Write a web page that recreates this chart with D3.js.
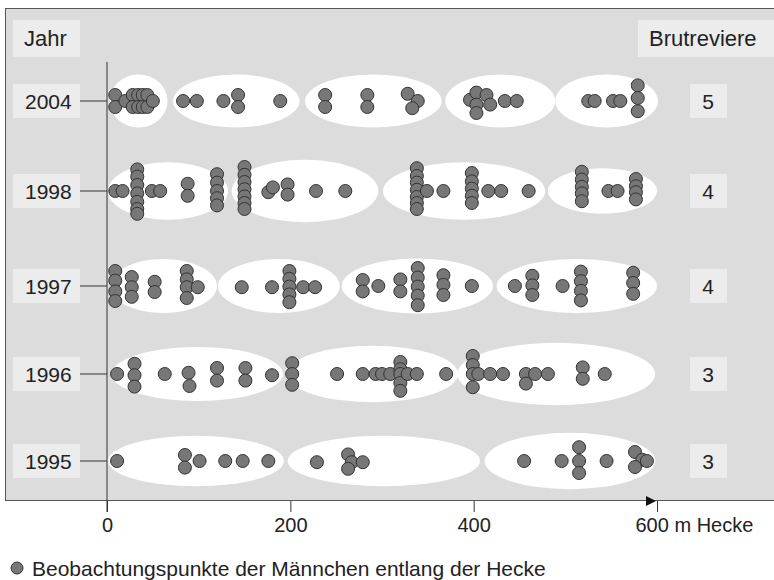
<!DOCTYPE html>
<html>
<head>
<meta charset="utf-8">
<script src="https://cdn.jsdelivr.net/npm/d3@7"></script>
<style>
body { margin: 0; background: #fff; }
text { font-family: "Liberation Sans", Arial, sans-serif; fill: #222; }
</style>
</head>
<body>
<svg id="chart" width="774" height="580"></svg>
<script>
// years (rows) and number of territories per year
var years = ["2004", "1998", "1997", "1996", "1995"];
var territories = [5, 4, 4, 3, 3];
var xTicks = [0, 200, 400, 600];

// observation points: [metres along hedge, stack level]
var dots2004 = [[9,-0.5],[9,0.5],[20,0],[28,-0.5],[28,0.5],[34,-0.5],[34,0.5],[39,-0.5],[39,0.5],[44,-0.5],[44,0.5],[50,0],
	[83,0],[98,0],[127,0],[143,-0.5],[143,0.5],[189,0],[238,-0.5],[238,0.5],[284,-0.5],[284,0.5],
	[328,-0.6],[339,0],[333,0.6],[396,-0.1],[403,-0.7],[414,-0.5],[403,0.3],[418,0.3],[403,1.0],[434,0],[447,0],
	[525,0],[532,0],[552,0],[560,0],[579,-1.3],[579,-0.25],[579,0.85]];
var dots1998 = [[9,0],[17,0],[33,-1.8],[33,-1.2],[33,-0.5],[33,0.2],[33,0.9],[33,1.5],[33,1.9],[49,0],[58,0],
	[88,-0.6],[88,0.4],[120,-1.4],[120,-0.7],[120,0],[120,0.6],[120,1.2],
	[150,-2],[150,-1.35],[150,-0.75],[150,-0.15],[150,0.45],[150,1.0],[150,1.5],
	[176,0.1],[181,-0.3],[197,-0.55],[197,0.3],[228,0],[260,0],
	[338,-1.9],[338,-1.25],[338,-0.7],[338,-0.1],[338,0.5],[338,1.0],[338,1.5],[349,0],[367,0],
	[398,-1.5],[398,-0.8],[398,-0.2],[398,0.4],[398,1.0],[416,0],[430,0],[460,0],
	[518,-1.6],[518,-0.95],[518,-0.35],[518,0.2],[518,0.85],[547,0],[557,0],[577,-1.0],[577,-0.4],[577,0.1],[577,0.7]];
var dots1997 = [[9,-1.25],[9,-0.45],[9,0.45],[9,1.25],[27,-0.75],[27,0.1],[27,0.9],[52,-0.35],[52,0.5],
	[87,-1.25],[87,-0.55],[87,0.1],[87,1.0],[99,0.1],[147,0.1],[180,0.1],
	[199,-1.25],[199,-0.6],[199,0.05],[199,0.7],[199,1.35],[214,0.1],[227,0.1],
	[279,-0.5],[279,0.45],[296,0],[320,-0.55],[320,0.45],[339,-1.5],[339,-0.7],[339,0.05],[339,0.8],[339,1.6],
	[367,-0.9],[367,-0.1],[367,0.75],[398,0],[445,0],[464,-0.85],[464,-0.05],[464,0.75],[497,0],
	[517,-1.2],[517,-0.4],[517,0.4],[517,1.2],[574,-1.1],[574,-0.25],[574,0.65]];
var dots1996 = [[11,0],[30,-0.85],[30,0.1],[30,1.05],[63,0],[89,-0.1],[90,1.0],[120,-0.5],[120,0.55],[151,-0.5],[151,0.55],
	[180,0.1],[202,-0.9],[202,0],[202,0.9],[251,0],[279,0],[293,0],[300,0],[309,0],
	[320,-1],[320,-0.4],[320,0],[320,0.75],[320,1.4],[328,0],[338,0],[370,0],
	[399,-1.5],[399,-0.75],[399,0],[399,1.1],[405,0],[418,0],[432,0],[457,0],[467,0],[457,0.8],[481,0],
	[519,-0.55],[519,0.4],[543,0]];
var dots1995 = [[11,0],[85,-0.5],[85,0.55],[101,0],[129,0],[148,0],[176,0],[229,0.1],
	[263,-0.55],[267,0.1],[263,0.65],[279,0.1],
	[455,0],[496,0],[515,-1.15],[515,0],[515,1.0],[545,0],[576,-0.75],[584,-0.1],[576,0.5],[589,0]];

// territories as white ellipses: [from m, to m, half height in stack levels]
var ell2004 = [[3,66,2.2],[72,210,2.2],[216,365,2.2],[369,489,2.2],[489,601,2.2]];
var ell1998 = [[1,132,2.4],[136,296,2.6],[301,478,2.4],[481,600,1.9]];
var ell1997 = [[3,120,2.25],[121,254,2.25],[256,421,2.3],[425,600,2.25]];
var ell1996 = [[5,192,2.25],[196,383,2.35],[382,598,2.6]];
var ell1995 = [[1,193,2.1],[197,407,2.1],[412,598,2.35]];

var dotsByYear = [dots2004, dots1998, dots1997, dots1996, dots1995];
var ellByYear = [ell2004, ell1998, ell1997, ell1996, ell1995];

var STEP = 12;   // px per stack level
var svg = d3.select("#chart");

var xScale = d3.scaleLinear()
	.domain([0, 600])
	.range([107, 657]);

var yRow = d3.scaleOrdinal()
	.domain(years)
	.range([101, 191, 286, 374, 461]);

// panel
svg.append("rect")
	.attr("x", 5.5).attr("y", 8.5)
	.attr("width", 800).attr("height", 492)
	.style("fill", "#dcdcdc")
	.style("stroke", "#555")
	.style("stroke-width", 1);

// header boxes
var header = svg.append("g").attr("class", "header");
header.append("rect").attr("x", 13).attr("y", 20).attr("width", 67).attr("height", 37).style("fill", "#ececec");
header.append("text").attr("x", 24).attr("y", 46).style("font-size", "22px").text("Jahr");
header.append("rect").attr("x", 638).attr("y", 20).attr("width", 140).attr("height", 37).style("fill", "#ececec");
header.append("text").attr("x", 649).attr("y", 46).style("font-size", "22px").text("Brutreviere");

// territory ellipses
var rows = svg.selectAll("g.row").data(years).enter().append("g")
	.attr("class", "row");

rows.selectAll("ellipse")
	.data(function(d, i) { return ellByYear[i]; })
	.enter().append("ellipse")
	.attr("cx", function(d) { return (xScale(d[0]) + xScale(d[1])) / 2; })
	.attr("cy", function() { return yRow(d3.select(this.parentNode).datum()); })
	.attr("rx", function(d) { return (xScale(d[1]) - xScale(d[0])) / 2; })
	.attr("ry", function(d) { return d[2] * STEP; })
	.style("fill", "#fff");

// vertical axis line
svg.append("line")
	.attr("x1", xScale(0)).attr("x2", xScale(0))
	.attr("y1", 62).attr("y2", 512)
	.style("stroke", "#333").style("stroke-width", 1);

// year labels with connector
rows.append("line")
	.attr("x1", 80).attr("x2", xScale(0))
	.attr("y1", function(d) { return yRow(d); })
	.attr("y2", function(d) { return yRow(d); })
	.style("stroke", "#333");
rows.append("rect")
	.attr("x", 13).attr("y", function(d) { return yRow(d) - 17; })
	.attr("width", 67).attr("height", 34)
	.style("fill", "#ececec");
rows.append("text")
	.attr("x", 25).attr("y", function(d) { return yRow(d); })
	.attr("dy", "0.36em")
	.style("font-size", "21px")
	.text(function(d) { return d; });

// number of territories
rows.append("rect")
	.attr("x", 690).attr("y", function(d) { return yRow(d) - 17; })
	.attr("width", 37).attr("height", 34)
	.style("fill", "#ececec");
rows.append("text")
	.attr("x", 708).attr("y", function(d) { return yRow(d); })
	.attr("dy", "0.36em")
	.attr("text-anchor", "middle")
	.style("font-size", "21px")
	.text(function(d, i) { return territories[i]; });

// observation points
rows.selectAll("circle")
	.data(function(d, i) { return dotsByYear[i].map(function(p) { return {year: d, m: p[0], lvl: p[1]}; }); })
	.enter().append("circle")
	.attr("cx", function(d) { return xScale(d.m); })
	.attr("cy", function(d) { return yRow(d.year) + d.lvl * STEP; })
	.attr("r", 6.5)
	.style("fill", "#777")
	.style("stroke", "#333")
	.style("stroke-width", 1);

// x axis
var xAxis = d3.axisBottom(xScale)
	.tickValues(xTicks)
	.tickSize(11)
	.tickSizeOuter(0)
	.tickPadding(6);

var gx = svg.append("g")
	.attr("class", "axis")
	.attr("transform", "translate(0,501)")
	.call(xAxis);
gx.select(".domain").remove();
gx.selectAll("line").style("stroke", "#333");
gx.selectAll("text")
	.style("font-size", "20px")
	.style("font-family", "'Liberation Sans', Arial, sans-serif")
	.style("fill", "#222");
gx.selectAll(".tick").filter(function(d) { return d === 600; }).select("text")
	.attr("text-anchor", "start")
	.attr("x", -22)
	.text("600 m Hecke");

// arrow
svg.append("path")
	.attr("d", "M" + (xScale(600) - 11) + ",496 L" + (xScale(600) - 1) + ",501 L" + (xScale(600) - 11) + ",506 Z")
	.style("fill", "#111");

// legend
svg.append("circle")
	.attr("cx", 17).attr("cy", 568).attr("r", 6)
	.style("fill", "#777").style("stroke", "#333");
svg.append("text")
	.attr("x", 32).attr("y", 568).attr("dy", "0.36em")
	.style("font-size", "21px")
	.text("Beobachtungspunkte der Männchen entlang der Hecke");
</script>
</body>
</html>
